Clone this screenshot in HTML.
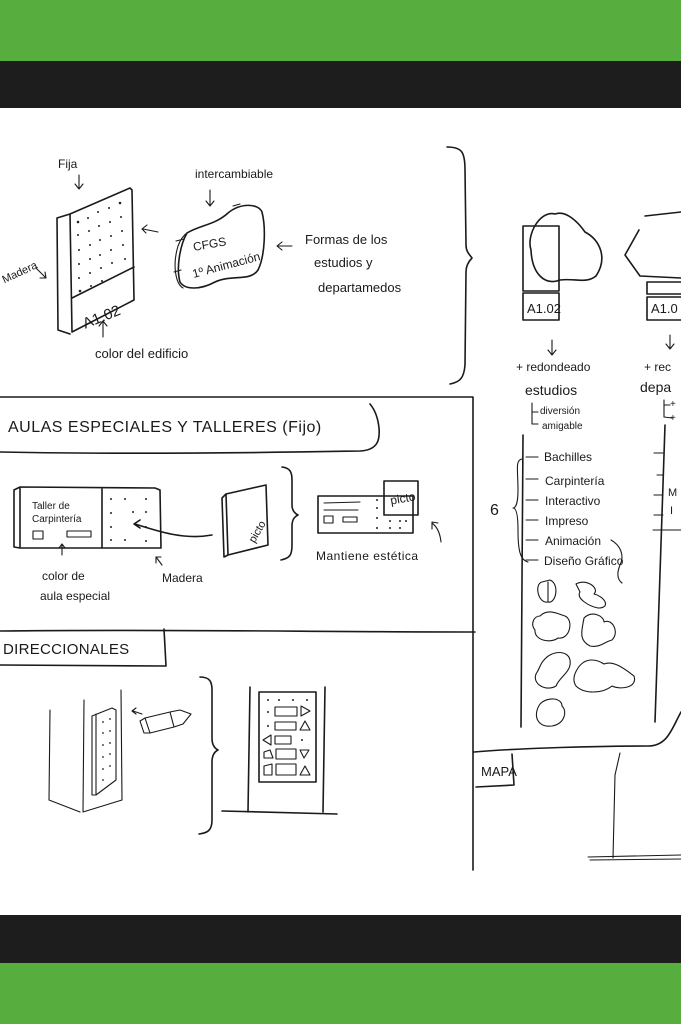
<!DOCTYPE html>
<html><head><meta charset="utf-8"><style>
html,body{margin:0;padding:0;width:681px;height:1024px;overflow:hidden;background:#fff}
svg{display:block}
text{font-family:"Liberation Sans","DejaVu Sans",sans-serif;fill:#1a1a1a}
.s{fill:none;stroke:#1a1a1a;stroke-width:1.6;stroke-linecap:round;stroke-linejoin:round}
.t{stroke-width:1.1}
</style></head><body>
<svg width="681" height="1024" viewBox="0 0 681 1024" xmlns="http://www.w3.org/2000/svg">
<rect x="0" y="0" width="681" height="61" fill="#58ad3f"/>
<rect x="0" y="61" width="681" height="47" fill="#1d1d1d"/>
<rect x="0" y="915" width="681" height="48" fill="#1d1d1d"/>
<rect x="0" y="963" width="681" height="61" fill="#58ad3f"/>

<!-- top section -->
<text x="58" y="168" font-size="12">Fija</text>
<path class="s t" d="M79 175 L79 188 M75 184 L79 189 L83 184"/>
<text x="-2" y="275" font-size="11" transform="rotate(-25 20 265)">Madera</text>
<path class="s t" d="M36 268 L46 278 M40 278 L46 278 L45 272"/>
<!-- panel -->
<path class="s" d="M57 218 L70 214 L130 188 L132 190 L134 300 L72 332 L70 214 M57 218 L58 330 L70 334 M72 298 L134 267"/>
<g fill="#222">
<circle cx="78" cy="222" r="1.3"/><circle cx="88" cy="218" r="1"/><circle cx="98" cy="212" r="1"/><circle cx="109" cy="208" r="1"/><circle cx="120" cy="203" r="1.3"/>
<circle cx="78" cy="235" r="1"/><circle cx="89" cy="231" r="1"/><circle cx="99" cy="226" r="1"/><circle cx="110" cy="222" r="1"/><circle cx="121" cy="217" r="1"/>
<circle cx="79" cy="250" r="1"/><circle cx="90" cy="245" r="1"/><circle cx="100" cy="240" r="1"/><circle cx="111" cy="236" r="1"/><circle cx="122" cy="231" r="1"/>
<circle cx="79" cy="264" r="1"/><circle cx="90" cy="259" r="1"/><circle cx="100" cy="255" r="1"/><circle cx="111" cy="250" r="1"/><circle cx="123" cy="245" r="1"/>
<circle cx="79" cy="278" r="1"/><circle cx="90" cy="273" r="1"/><circle cx="101" cy="268" r="1"/><circle cx="112" cy="263" r="1"/><circle cx="125" cy="259" r="1"/>
<circle cx="80" cy="291" r="1.3"/><circle cx="91" cy="286" r="1"/><circle cx="102" cy="281" r="1"/>
</g>
<text x="80" y="322" font-size="15" transform="rotate(-22 100 312)">A1.02</text>
<path class="s t" d="M103 337 L103 322 M99 326 L103 321 L107 326"/>
<text x="95" y="358" font-size="13">color del edificio</text>
<path class="s t" d="M158 232 L143 229 M147 225 L142 229 L146 233"/>
<!-- intercambiable -->
<text x="195" y="178" font-size="12">intercambiable</text>
<path class="s t" d="M210 190 L210 205 M206 201 L210 206 L214 201"/>
<path class="s" d="M187 233 C200 225 215 225 228 213 C240 203 258 203 262 212 C266 228 265 256 258 270 C250 282 232 274 215 282 C200 290 185 290 180 282 C176 268 180 245 187 233 Z"/>
<path class="s t" d="M183 288 C176 284 172 266 178 246 C181 238 184 235 187 233 M176 241 L184 239 M174 272 L181 270 M233 206 L240 204"/>
<text x="193" y="249" font-size="12" transform="rotate(-10 205 245)">CFGS</text>
<text x="191" y="272" font-size="12" transform="rotate(-15 215 265)">1º Animación</text>
<path class="s t" d="M292 246 L278 246 M282 242 L277 246 L282 250"/>
<text x="305" y="244" font-size="13">Formas de los</text>
<text x="314" y="267" font-size="13">estudios y</text>
<text x="318" y="292" font-size="13">departamedos</text>
<path class="s" d="M447 147 C462 147 465 152 465 170 L466 245 C466 252 470 255 472 258 C468 262 466 266 466 272 L465 365 C464 378 460 382 450 384"/>

<!-- dividers -->
<path class="s" d="M0 397 C150 396 300 398 473 397 L473 870"/>
<path class="s" d="M0 631 C160 629 320 632 475 632"/>

<!-- AULAS -->
<text x="8" y="432" font-size="16" letter-spacing="0.5">AULAS ESPECIALES Y TALLERES (Fijo)</text>
<path class="s" d="M0 452 C150 455 300 452 360 451 C378 450 380 440 379 428 C378 418 375 410 370 404"/>
<path class="s" d="M14 490 L20 487 L155 488 L160 490 L161 548 L20 548 L14 547 Z M20 487 L20 548 M102 488 L102 548"/>
<text x="32" y="509" font-size="10">Taller de</text>
<text x="32" y="522" font-size="10">Carpintería</text>
<rect class="s t" x="33" y="531" width="10" height="8"/>
<rect class="s t" x="67" y="531" width="24" height="6"/>
<g fill="#222"><circle cx="111" cy="499" r="1"/><circle cx="125" cy="499" r="1"/><circle cx="146" cy="499" r="1"/><circle cx="111" cy="513" r="1"/><circle cx="133" cy="512" r="1"/><circle cx="146" cy="512" r="1"/><circle cx="111" cy="527" r="1"/><circle cx="146" cy="527" r="1"/><circle cx="111" cy="540" r="1"/><circle cx="125" cy="540" r="1"/><circle cx="146" cy="541" r="1"/></g>
<path class="s" d="M212 535 C185 540 160 532 135 524 M140 520 L134 524 L140 528"/>
<path class="s" d="M226 494 L266 485 L268 545 L228 555 Z M226 494 L222 498 L224 557 L228 555"/>
<text x="238" y="545" font-size="11" transform="rotate(-60 245 530)">picto</text>
<path class="s t" d="M62 555 L62 545 M59 548 L62 544 L65 548 M162 565 L156 557 M156 563 L156 557 L161 557"/>
<text x="42" y="580" font-size="12">color de</text>
<text x="40" y="600" font-size="12">aula especial</text>
<text x="162" y="582" font-size="12">Madera</text>
<path class="s" d="M282 467 C290 468 292 472 292 480 L292 505 C292 510 294 513 298 515 C294 517 292 520 292 526 L292 545 C292 555 290 558 281 560"/>
<rect class="s" x="318" y="496" width="95" height="37"/>
<path class="s t" d="M324 503 L360 502 M324 510 L358 510"/>
<rect class="s t" x="324" y="516" width="9" height="7"/><rect class="s t" x="343" y="517" width="14" height="5"/>
<rect class="s" x="384" y="481" width="34" height="34" fill="#fff"/>
<text x="390" y="503" font-size="12" transform="rotate(-10 400 498)">picto</text>
<g fill="#222"><circle cx="377" cy="500" r="1"/><circle cx="377" cy="508" r="1"/><circle cx="377" cy="518" r="1"/><circle cx="390" cy="521" r="1"/><circle cx="400" cy="521" r="1"/><circle cx="406" cy="521" r="1"/><circle cx="377" cy="528" r="1"/><circle cx="390" cy="528" r="1"/><circle cx="400" cy="528" r="1"/></g>
<path class="s t" d="M441 542 C440 532 436 526 432 523 M432 529 L432 522 L438 523"/>
<text x="316" y="560" font-size="12" letter-spacing="0.5">Mantiene estética</text>

<!-- DIRECCIONALES -->
<text x="3" y="654" font-size="15" letter-spacing="0.3">DIRECCIONALES</text>
<path class="s" d="M0 665 L166 666 L164 629"/>
<path class="s t" d="M50 710 L49 800 L80 812 M84 700 L83 812 L122 800 L121 690"/>
<path class="s t" d="M92 716 L112 708 L116 710 L116 780 L96 795 L92 795 Z M96 714 L96 795"/>
<g fill="#222"><circle cx="103" cy="722" r="0.9"/><circle cx="110" cy="719" r="0.9"/><circle cx="103" cy="733" r="0.9"/><circle cx="110" cy="731" r="0.9"/><circle cx="103" cy="745" r="0.9"/><circle cx="110" cy="743" r="0.9"/><circle cx="103" cy="757" r="0.9"/><circle cx="110" cy="754" r="0.9"/><circle cx="103" cy="769" r="0.9"/><circle cx="110" cy="766" r="0.9"/><circle cx="103" cy="780" r="0.9"/></g>
<path class="s t" d="M145 718 L170 712 L174 727 L150 733 Z M170 712 L180 710 L191 714 L183 724 L174 727 M145 718 L140 721 L144 733 L150 733"/>
<path class="s t" d="M142 714 L133 711 M136 708 L132 711 L136 714"/>
<path class="s" d="M200 677 C210 677 212 682 212 690 L212 738 C212 744 214 748 218 750 C214 752 212 756 212 762 L212 820 C212 830 208 833 199 834"/>
<path class="s" d="M250 687 L248 812 M325 687 L323 812 M222 811 L337 814"/>
<rect class="s" x="259" y="692" width="57" height="90"/>
<g fill="#222"><circle cx="268" cy="700" r="1"/><circle cx="279" cy="700" r="1"/><circle cx="293" cy="700" r="1"/><circle cx="307" cy="700" r="1"/><circle cx="268" cy="712" r="1"/><circle cx="268" cy="726" r="1"/><circle cx="302" cy="740" r="1"/></g>
<g class="s t">
<rect x="275" y="707" width="22" height="9"/><path d="M301 706 L310 711 L301 716 Z"/>
<rect x="275" y="722" width="21" height="8"/><path d="M300 730 L305 721 L310 730 Z"/>
<rect x="275" y="736" width="16" height="8"/><path d="M271 735 L263 740 L271 745 Z"/>
<rect x="276" y="749" width="20" height="10"/><path d="M300 750 L309 750 L304 758 Z M264 758 L264 752 L270 750 L273 758 Z"/>
<rect x="276" y="764" width="20" height="11"/><path d="M300 775 L305 766 L310 775 Z M264 775 L264 766 L272 764 L272 775 Z"/>
</g>

<!-- right column -->
<rect class="s" x="523" y="226" width="36" height="65"/>
<path class="s" d="M531 250 C526 235 540 210 555 214 C566 210 578 222 585 232 C600 240 608 258 596 276 C586 284 575 278 560 280 C545 286 532 274 531 250 Z" fill="#fff"/>
<rect class="s" x="523" y="293" width="36" height="27"/>
<text x="527" y="313" font-size="13">A1.02</text>
<path class="s" d="M645 216 L681 212 M639 230 L625 255 L640 276 L681 278"/>
<rect class="s" x="647" y="282" width="40" height="12"/>
<rect class="s" x="647" y="297" width="40" height="23"/>
<text x="651" y="313" font-size="13">A1.0</text>
<path class="s t" d="M552 340 L552 354 M548 350 L552 355 L556 350 M670 335 L670 348 M666 344 L670 349 L674 344"/>
<text x="516" y="371" font-size="12">+ redondeado</text>
<text x="525" y="395" font-size="14">estudios</text>
<path class="s t" d="M532 403 L532 424 L538 424 M532 412 L538 412"/>
<text x="540" y="414" font-size="10">diversión</text>
<text x="542" y="429" font-size="10">amigable</text>
<text x="644" y="371" font-size="12">+ rec</text>
<text x="640" y="392" font-size="14">depa</text>
<path class="s t" d="M664 400 L664 417 L672 418 M664 405 L670 405"/>
<text x="670" y="407" font-size="10">+</text><text x="670" y="421" font-size="10">+</text>
<path class="s" d="M523 435 L521 727 M665 425 L655 722"/>
<path class="s t" d="M526 457 L538 457 M526 479 L538 479 M526 500 L538 500 M526 520 L538 520 M526 540 L538 540 M526 560 L538 560"/>
<path class="s t" d="M522 459 C515 460 518 470 518 490 C518 502 516 508 513 508 C516 508 518 514 518 530 C518 550 520 560 528 562"/>
<text x="490" y="515" font-size="16">6</text>
<text x="544" y="461" font-size="12">Bachilles</text>
<text x="545" y="485" font-size="12">Carpintería</text>
<text x="545" y="505" font-size="12">Interactivo</text>
<text x="545" y="525" font-size="12">Impreso</text>
<text x="545" y="545" font-size="12">Animación</text>
<text x="544" y="565" font-size="12">Diseño Gráfico</text>
<path class="s t" d="M654 453 L663 453 M657 475 L663 475 M654 495 L663 495 M654 515 L663 515 M653 530 L681 530"/>
<text x="668" y="496" font-size="11">M</text><text x="670" y="514" font-size="11">I</text>
<path class="s t" d="M611 540 C620 545 625 555 620 565 C616 575 618 580 622 583"/>
<g class="s t">
<path d="M542 582 C534 584 538 604 548 602 C556 604 560 584 550 580 Z M548 582 L548 602"/>
<path d="M576 584 C586 578 600 588 594 594 C604 596 612 608 598 608 C588 606 576 598 580 592 Z"/>
<path d="M540 616 C548 608 558 614 565 616 C574 620 570 640 558 638 C550 644 534 640 535 630 C530 624 534 616 540 616 Z"/>
<path d="M584 618 C592 610 604 616 604 622 C612 618 620 632 612 640 C604 642 600 648 590 646 C578 640 582 630 584 618 Z"/>
<path d="M544 660 C552 650 568 650 570 660 C572 672 560 676 556 686 C546 692 532 684 536 674 C540 668 540 664 544 660 Z"/>
<path d="M578 668 C586 656 598 660 604 664 C614 660 626 670 634 676 C638 688 620 690 612 686 C602 694 584 694 576 686 C572 680 574 674 578 668 Z"/>
<path d="M540 704 C548 696 562 698 562 706 C568 712 564 724 552 726 C538 728 532 716 540 704 Z"/>
</g>
<path class="s" d="M474 752 C520 748 600 746 648 746 C668 746 672 728 681 712"/>
<text x="481" y="776" font-size="13">MAPA</text>
<path class="s" d="M476 787 L514 785 L512 754"/>
<path class="s t" d="M620 753 L615 775 L613 858 M588 857 L681 855 M590 860 L681 859"/>
</svg>
</body></html>
